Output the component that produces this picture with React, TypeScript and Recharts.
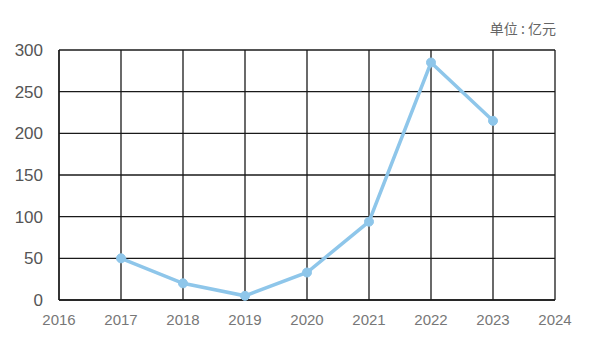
import React from "react";
import { LineChart, Line, XAxis, YAxis, CartesianGrid } from "recharts";

const years = [2017, 2018, 2019, 2020, 2021, 2022, 2023];
const values = [50, 20, 5, 33, 94, 285, 215];
const xTicks = [2016, 2017, 2018, 2019, 2020, 2021, 2022, 2023, 2024];
const yTicks = [0, 50, 100, 150, 200, 250, 300];
const unitLabel = "单位 : 亿元";

const data = years.map((y, i) => ({ year: y, value: values[i] }));

const font = "'Liberation Sans', Arial, sans-serif";

export default function App() {
  return (
    <div style={{ position: "absolute", left: 0, top: 0, width: 600, height: 345, background: "#fff" }}>
      <div
        style={{
          position: "absolute",
          right: 44,
          top: 18,
          fontFamily: "'Noto Sans CJK SC', sans-serif",
          fontSize: 14,
          color: "#666",
        }}
      >
        {unitLabel}
      </div>
      <LineChart width={600} height={345} data={data} margin={{ top: 50, right: 45, bottom: 15, left: 0 }}>
        <CartesianGrid stroke="#1a1a1a" strokeWidth={1.3} />
        <XAxis
          dataKey="year"
          type="number"
          domain={[2016, 2024]}
          ticks={xTicks}
          height={30}
          axisLine={{ stroke: "#1a1a1a", strokeWidth: 1.3 }}
          tickLine={false}
          tick={{ fill: "#777", fontSize: 15, fontFamily: font }}
          tickMargin={8}
        />
        <YAxis
          domain={[0, 300]}
          ticks={yTicks}
          width={59}
          axisLine={{ stroke: "#1a1a1a", strokeWidth: 1.3 }}
          tickLine={false}
          tick={{ fill: "#555", fontSize: 17, fontFamily: font }}
          tickMargin={10}
        />
        <Line
          dataKey="value"
          stroke="#8ec6ea"
          strokeWidth={3.5}
          dot={{ r: 4.5, fill: "#8ec6ea", stroke: "#8ec6ea", strokeWidth: 1 }}
          isAnimationActive={false}
        />
      </LineChart>
    </div>
  );
}
